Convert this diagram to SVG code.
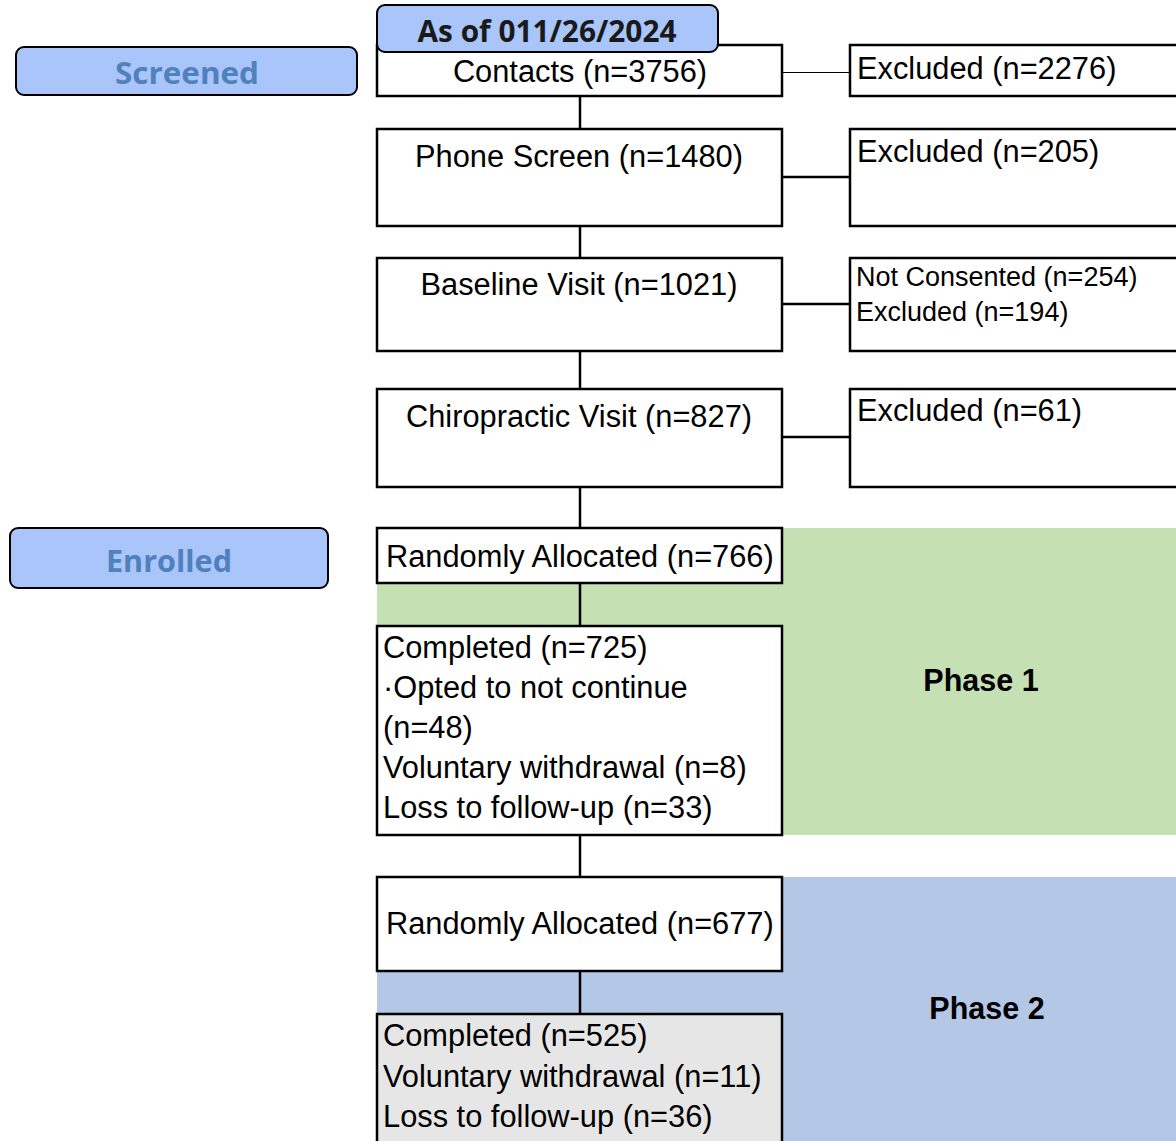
<svg xmlns="http://www.w3.org/2000/svg" width="1176" height="1141" viewBox="0 0 1176 1141">
<style>
.box{fill:#ffffff;stroke:#000000;stroke-width:2.5}
.grey{fill:#e6e6e6;stroke:#000000;stroke-width:2.5}
.tag{fill:#a9c5fa;stroke:#000000;stroke-width:2}
.t{font-family:"Liberation Sans",Arial,sans-serif;font-size:30.8px;fill:#000000}
.ts{font-family:"Liberation Sans",Arial,sans-serif;font-size:27px;fill:#000000}
.ph{font-family:"Liberation Sans",Arial,sans-serif;font-size:30.5px;font-weight:bold;fill:#000000}
.lab{font-family:"Open Sans","Noto Sans",sans-serif;font-size:30px;font-weight:bold;fill:#4f81bd}
.hdr{font-family:"Open Sans","Noto Sans",sans-serif;font-size:31px;font-weight:bold;fill:#1a1a1a}
.c{fill:none;stroke:#000000;stroke-width:2.5}
</style>
<g id="phase1-bg"><rect x="377" y="528" width="799" height="307" fill="#c5e0b3"/></g>
<g id="phase2-bg"><rect x="377" y="877" width="799" height="264" fill="#b4c7e7"/></g>
<g id="connectors">
<line class="c" x1="580" y1="96" x2="580" y2="129"/>
<line class="c" x1="580" y1="226" x2="580" y2="258"/>
<line class="c" x1="580" y1="351" x2="580" y2="389"/>
<line class="c" x1="580" y1="487" x2="580" y2="528"/>
<line class="c" x1="580" y1="583" x2="580" y2="626"/>
<line class="c" x1="580" y1="835" x2="580" y2="877"/>
<line class="c" x1="580" y1="971" x2="580" y2="1014"/>
<line x1="778" y1="72.5" x2="850" y2="72.5" stroke="#000" stroke-width="1"/>
<line class="c" x1="782" y1="177" x2="850" y2="177"/>
<line class="c" x1="782" y1="304" x2="850" y2="304"/>
<line class="c" x1="782" y1="437" x2="850" y2="437"/>
</g>
<g id="screened"><rect class="tag" x="16" y="47" width="341" height="48" rx="8"/><text class="lab" x="187" y="84" text-anchor="middle" textLength="144" lengthAdjust="spacingAndGlyphs">Screened</text></g>
<g id="enrolled"><rect class="tag" x="10" y="528" width="318" height="60" rx="8"/><text class="lab" x="169" y="572" text-anchor="middle" textLength="126" lengthAdjust="spacingAndGlyphs">Enrolled</text></g>
<g id="contacts"><rect class="box" x="377" y="45" width="405" height="51"/><text class="t" x="580" y="82" text-anchor="middle">Contacts (n=3756)</text></g>
<g id="header"><rect class="tag" x="377" y="5" width="341" height="47" rx="8"/><text class="hdr" x="547" y="42" text-anchor="middle" textLength="259" lengthAdjust="spacingAndGlyphs">As of 011/26/2024</text></g>
<g id="excl1"><rect class="box" x="850" y="45" width="340" height="51"/><text class="t" x="857" y="79">Excluded (n=2276)</text></g>
<g id="phone"><rect class="box" x="377" y="129" width="405" height="97"/><text class="t" x="579" y="167" text-anchor="middle">Phone Screen (n=1480)</text></g>
<g id="excl2"><rect class="box" x="850" y="129" width="340" height="97"/><text class="t" x="857" y="162">Excluded (n=205)</text></g>
<g id="baseline"><rect class="box" x="377" y="258" width="405" height="93"/><text class="t" x="579" y="295" text-anchor="middle">Baseline Visit (n=1021)</text></g>
<g id="excl3"><rect class="box" x="850" y="258" width="340" height="93"/><text class="ts" x="856" y="286">Not Consented (n=254)</text><text class="ts" x="856" y="321">Excluded (n=194)</text></g>
<g id="chiro"><rect class="box" x="377" y="389" width="405" height="98"/><text class="t" x="579" y="427" text-anchor="middle">Chiropractic Visit (n=827)</text></g>
<g id="excl4"><rect class="box" x="850" y="389" width="340" height="98"/><text class="t" x="857" y="421">Excluded (n=61)</text></g>
<g id="rand1"><rect class="box" x="377" y="528" width="405" height="55"/><text class="t" x="386" y="567">Randomly Allocated (n=766)</text></g>
<g id="comp1"><rect class="box" x="377" y="626" width="405" height="209"/>
<text class="t" x="383" y="658">Completed (n=725)</text>
<text class="t" x="383" y="698">·Opted to not continue</text>
<text class="t" x="383" y="738">(n=48)</text>
<text class="t" x="383" y="778">Voluntary withdrawal (n=8)</text>
<text class="t" x="383" y="818">Loss to follow-up (n=33)</text></g>
<g id="phase1"><text class="ph" x="981" y="691" text-anchor="middle">Phase 1</text></g>
<g id="rand2"><rect class="box" x="377" y="877" width="405" height="94"/><text class="t" x="386" y="934">Randomly Allocated (n=677)</text></g>
<g id="comp2"><rect class="grey" x="377" y="1014" width="405" height="140"/>
<text class="t" x="383" y="1046">Completed (n=525)</text>
<text class="t" x="383" y="1087">Voluntary withdrawal (n=11)</text>
<text class="t" x="383" y="1127">Loss to follow-up (n=36)</text></g>
<g id="phase2"><text class="ph" x="987" y="1019" text-anchor="middle">Phase 2</text></g>
</svg>
